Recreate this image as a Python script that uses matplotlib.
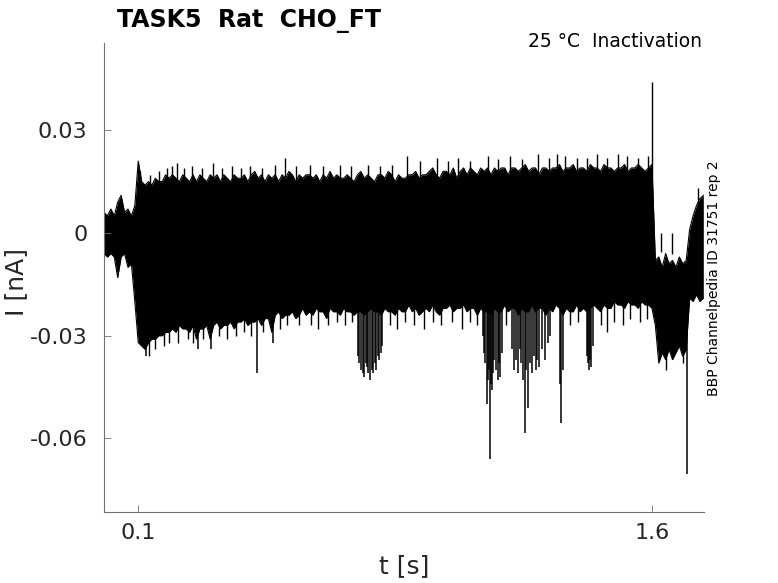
import matplotlib
matplotlib.use('Agg')
import matplotlib.pyplot as plt
import numpy as np

plt.rcParams['font.family'] = ['DejaVu Sans']

t_step = 0.01
i_upper_pA = [
    6, 5, 7, 5, 9, 11, 6, 7, 5, 8,
    21, 15, 14, 15, 14, 16, 15, 15, 17, 16,
    17, 16, 15, 17, 16, 15, 17, 15, 17, 16,
    15, 17, 16, 17, 15, 17, 16, 15, 17, 16,
    16, 17, 15, 17, 18, 16, 17, 15, 17, 16,
    17, 15, 17, 16, 18, 17, 15, 17, 16, 17,
    17, 16, 17, 15, 17, 16, 18, 16, 17, 16,
    16, 17, 16, 15, 17, 18, 16, 17, 16, 15,
    17, 17, 16, 18, 17, 15, 17, 16, 16, 17,
    17, 18, 16, 17, 17, 18, 19, 17, 16, 18,
    18, 17, 19, 16, 18, 19, 17, 19, 18, 17,
    19, 18, 19, 17, 19, 18, 19, 19, 17, 19,
    19, 18, 19, 20, 18, 19, 19, 17, 19, 19,
    18, 19, 19, 20, 18, 19, 19, 20, 18, 19,
    19, 18, 20, 19, 19, 18, 20, 19, 19, 18,
    19, 19, 20, 18, 19, 19, 20, 19, 18, 19,
    20,
    -8, -7, -10, -6, -9, -8, -10, -7, -9, -8,
    1, 5, 8, 10, 11,
]
i_lower_pA = [
    -6, -7, -6, -7, -13, -7, -6, -10, -9, -20,
    -32, -33, -34, -32, -31, -31, -30, -30, -29, -29,
    -28, -29, -27, -28, -28, -29, -27, -31, -28, -28,
    -27, -31, -27, -26, -28, -27, -27, -26, -28, -26,
    -26, -25, -27, -26, -26, -25, -27, -25, -25, -29,
    -24, -23, -25, -24, -24, -23, -25, -24, -22, -24,
    -23, -24, -22, -23, -23, -25, -22, -23, -23, -24,
    -22, -23, -23, -24, -23, -23, -24, -23, -22, -23,
    -23, -24, -22, -23, -23, -24, -22, -23, -23, -21,
    -23, -22, -24, -23, -22, -23, -21, -23, -24, -22,
    -22, -21, -23, -22, -22, -21, -23, -22, -22, -24,
    -22, -23, -23, -24, -22, -23, -23, -21, -23, -22,
    -22, -24, -22, -23, -23, -21, -23, -22, -22, -24,
    -22, -23, -21, -22, -24, -22, -23, -23, -21, -23,
    -22, -23, -22, -21, -22, -23, -21, -22, -22, -20,
    -21, -21, -22, -20, -21, -21, -22, -20, -21, -21,
    -22,
    -27, -38, -35, -37, -34, -37, -35, -33, -36, -34,
    -19, -20, -18, -20, -19,
]

# single downward excursions (time in s, minimum in pA)
dip_t = [0.123, 0.275, 0.313, 0.447, 0.494,
         0.742, 0.746, 0.751, 0.755, 0.759, 0.764, 0.768, 0.772, 0.777,
         0.782, 0.786, 0.790, 0.794, 0.799, 0.803, 0.808, 0.812,
         1.107, 1.110, 1.113, 1.118, 1.121, 1.124, 1.127, 1.130, 1.133,
         1.136, 1.139, 1.145, 1.150, 1.153, 1.156, 1.162,
         1.191, 1.197, 1.203, 1.209, 1.215, 1.219, 1.223, 1.229, 1.233,
         1.238, 1.244, 1.250, 1.256, 1.261, 1.265, 1.270, 1.279, 1.288,
         1.296, 1.302,
         1.331, 1.334, 1.340,
         1.410, 1.413, 1.416, 1.419, 1.422, 1.428,
         1.702]
dip_min_pA = [-36, -34, -34, -41, -32,
              -36, -38, -40, -41, -42, -38, -39, -41, -43,
              -40, -41, -38, -40, -36, -37, -35, -33,
              -30, -35, -38, -50, -43, -40, -66, -44, -46,
              -41, -37, -40, -43, -38, -42, -35,
              -34, -40, -37, -41, -34, -38, -43, -58.5, -40,
              -51, -38, -41, -36, -40, -37, -39, -34, -37,
              -32, -30,
              -44, -55.5, -40,
              -36, -38, -40, -37, -39, -33,
              -70.5]

# short upward excursions along the top of the band (s, pA)
tip_t = [0.105, 0.135, 0.160, 0.185, 0.200, 0.214, 0.235, 0.258, 0.285,
         0.319, 0.345, 0.374, 0.400, 0.427, 0.460, 0.500, 0.529, 0.560,
         0.602, 0.640, 0.689, 0.720, 0.771, 0.806, 0.840, 0.885, 0.923,
         0.972, 1.005, 1.034, 1.070, 1.121, 1.150, 1.185, 1.220, 1.267,
         1.300, 1.323, 1.346, 1.380, 1.410, 1.439, 1.470, 1.500, 1.527,
         1.560, 1.588, 1.625, 1.660, 1.735]
tip_pA = [18, 17, 18, 19, 19.5, 20.5, 19, 19.5, 19,
          20.5, 19, 19.5, 19, 19.5, 19, 20, 22, 19.5,
          20, 19.5, 20, 19.5, 20, 19.5, 20, 22.5, 21,
          22, 21, 22, 21, 22.5, 21.5, 22.5, 21.5, 23,
          22, 23, 22.5, 22, 22, 23, 22, 23, 22.5,
          22, 22.5, -5.5, -6, 13]

# short downward excursions along the bottom of the band (s, pA)
nick_t = [0.130, 0.150, 0.175, 0.190, 0.215, 0.245, 0.260, 0.290, 0.335,
          0.360, 0.385, 0.410, 0.430, 0.465, 0.515, 0.535, 0.570, 0.605,
          0.625, 0.655, 0.680, 0.705, 0.725, 0.835, 0.855, 0.880, 0.905,
          0.935, 0.960, 0.985, 1.015, 1.045, 1.070, 1.090, 1.175, 1.360,
          1.385, 1.450, 1.470, 1.490, 1.515, 1.535, 1.565, 1.585, 1.640,
          1.690]
nick_pA = [-36, -34, -33, -32, -32, -31, -32, -31, -30,
           -31, -30, -29, -30, -29, -28, -27, -27, -27,
           -28, -27, -26, -27, -26, -27, -28, -26, -27,
           -28, -26, -27, -26, -28, -26, -27, -27, -27,
           -26, -27, -29, -26, -27, -25, -26, -25, -40,
           -38]

# upward transient at end of the test pulse
peak_t = [1.601]
peak_pA = [44]

t = np.arange(len(i_upper_pA)) * t_step
upper = np.array(i_upper_pA) / 1000.0
lower = np.array(i_lower_pA) / 1000.0

fig = plt.figure(figsize=(7.78, 5.83), dpi=100)
ax = fig.add_axes([104 / 778, 71 / 583, 600 / 778, 469 / 583])

ax.fill_between(t, lower, upper, color='black', linewidth=0)
ax.plot(t, upper, color='black', linewidth=0.8)
ax.plot(t, lower, color='black', linewidth=0.8)
ax.vlines(dip_t, np.array(dip_min_pA) / 1000.0, -0.018, color='black', linewidth=1.1)
ax.vlines(tip_t, 0.0, np.array(tip_pA) / 1000.0, color='black', linewidth=1.0)
ax.vlines(nick_t, np.array(nick_pA) / 1000.0, -0.015, color='black', linewidth=1.0)
ax.vlines(peak_t, -0.010, np.array(peak_pA) / 1000.0, color='black', linewidth=1.0)

ax.set_xlim(0.0, 1.752)
ax.set_ylim(-0.0815, 0.0555)
ax.set_xticks([0.1, 1.6])
ax.set_xticklabels(['0.1', '1.6'])
ax.set_yticks([-0.06, -0.03, 0, 0.03])
ax.set_yticklabels(['-0.06', '-0.03', '0', '0.03'])

spine_col = '#707070'
for side in ['top', 'right']:
    ax.spines[side].set_visible(False)
for side in ['left', 'bottom']:
    ax.spines[side].set_color(spine_col)
    ax.spines[side].set_linewidth(0.8)
ax.tick_params(axis='both', direction='in', length=5, width=0.6, color=spine_col,
               labelsize=16, labelcolor='#262626')
ax.tick_params(axis='x', pad=8)
ax.tick_params(axis='y', pad=12)

ax.set_xlabel('t [s]', fontsize=18, color='#262626', labelpad=8)
ax.set_ylabel('I [nA]', fontsize=18, color='#262626')
ax.yaxis.set_label_coords(-0.127, 0.49)

fig.text(117 / 778, 1 - 27 / 583, 'TASK5  Rat  CHO_FT', fontsize=17,
         fontweight='bold', ha='left', va='baseline')
fig.text(702 / 778, 1 - 46.7 / 583, '25 °C  Inactivation', fontsize=13.5,
         ha='right', va='baseline')
fig.text(714 / 778, 1 - 278.5 / 583, 'BBP Channelpedia ID 31751 rep 2', fontsize=10,
         rotation=90, ha='center', va='center')

fig.savefig('out.png', dpi=100, facecolor='white')
